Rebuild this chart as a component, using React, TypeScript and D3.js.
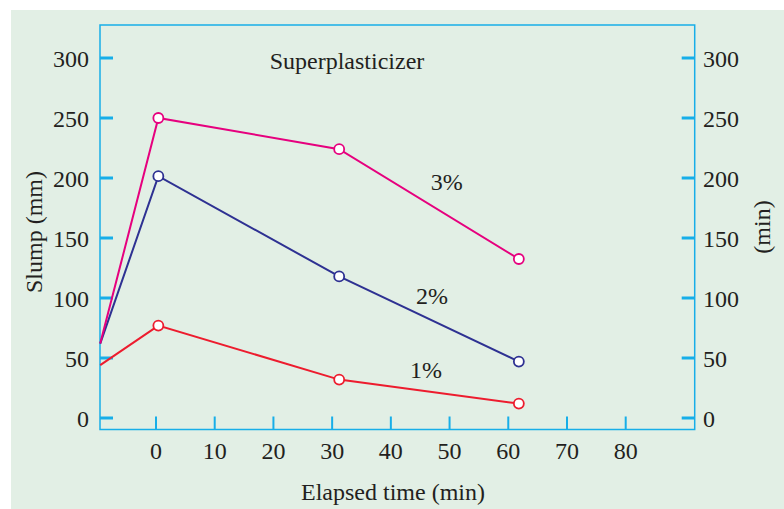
import React from "react";
import * as d3 from "d3";

// elapsed time (min); the first point sits on the left frame
const times = [-9.5, 0.4, 31.2, 61.8];

const slump1 = [44, 77, 32, 12];
const slump2 = [62, 201.5, 118, 47];
const slump3 = [62, 250, 224, 132.5];

const seriesNames = ["1%", "2%", "3%"];
const seriesColors = ["#ed1c2e", "#2e3192", "#e6007e"];
// label anchor points (time, slump) for each series
const labelPos: [number, number][] = [[46, 33], [47, 95], [49.5, 190]];

const xTicks = [0, 10, 20, 30, 40, 50, 60, 70, 80];
const yTicks = [0, 50, 100, 150, 200, 250, 300];

const W = 784;
const H = 509;
const frame = { left: 100, right: 694.7, top: 25, bottom: 429.5 };
const axisColor = "#17aee8";
const textColor = "#231f20";
const font = "'Liberation Serif', 'Times New Roman', serif";

export default function App() {
  const xScale = d3.scaleLinear().domain([0, 80]).range([156, 625.7]);
  const yScale = d3.scaleLinear().domain([0, 300]).range([418, 58]);

  const series = [slump1, slump2, slump3];
  const line = d3
    .line<[number, number]>()
    .x(d => xScale(d[0]))
    .y(d => yScale(d[1]));

  return (
    <svg width={W} height={H} style={{ position: "absolute", left: 0, top: 0 }} fontFamily={font}>
      <rect x={0} y={0} width={W} height={H} fill="#ffffff" />
      <rect x={11} y={10} width={W - 11} height={H - 10} fill="#e2efe5" />

      <rect
        x={frame.left}
        y={frame.top}
        width={frame.right - frame.left}
        height={frame.bottom - frame.top}
        fill="none"
        stroke={axisColor}
        strokeWidth={1.5}
      />

      {/* y ticks, both sides */}
      {yTicks.map(t => (
        <g key={`y${t}`}>
          <path d={`M${frame.left} ${yScale(t)} h13`} stroke={axisColor} strokeWidth={3} />
          <path d={`M${frame.right} ${yScale(t)} h-13`} stroke={axisColor} strokeWidth={3} />
          <text x={89} y={yScale(t) + 9} textAnchor="end" fontSize={24} fill={textColor}>{t}</text>
          <text x={703} y={yScale(t) + 9} textAnchor="start" fontSize={24} fill={textColor}>{t}</text>
        </g>
      ))}

      {/* x ticks */}
      {xTicks.map(t => (
        <g key={`x${t}`}>
          <path d={`M${xScale(t)} ${frame.bottom} v-13`} stroke={axisColor} strokeWidth={2} />
          <text x={xScale(t)} y={459} textAnchor="middle" fontSize={24} fill={textColor}>{t}</text>
        </g>
      ))}

      {series.map((vals, i) => {
        const pts: [number, number][] = times.map((t, j) => [t, vals[j]]);
        return (
          <g key={seriesNames[i]}>
            <path d={line(pts) ?? ""} fill="none" stroke={seriesColors[i]} strokeWidth={2} />
            {pts.slice(1).map((p, j) => (
              <circle
                key={j}
                cx={xScale(p[0])}
                cy={yScale(p[1])}
                r={5}
                fill="#ffffff"
                stroke={seriesColors[i]}
                strokeWidth={1.8}
              />
            ))}
            <text
              x={xScale(labelPos[i][0])}
              y={yScale(labelPos[i][1])}
              textAnchor="middle"
              fontSize={24}
              fill={textColor}
            >
              {seriesNames[i]}
            </text>
          </g>
        );
      })}

      <text x={347} y={69} textAnchor="middle" fontSize={24} fill={textColor}>Superplasticizer</text>
      <text x={393} y={500} textAnchor="middle" fontSize={24} fill={textColor}>Elapsed time (min)</text>
      <text transform="translate(42,232) rotate(-90)" textAnchor="middle" fontSize={24} fill={textColor}>Slump (mm)</text>
      <text transform="translate(770,227) rotate(-90)" textAnchor="middle" fontSize={24} fill={textColor}>(min)</text>
    </svg>
  );
}
